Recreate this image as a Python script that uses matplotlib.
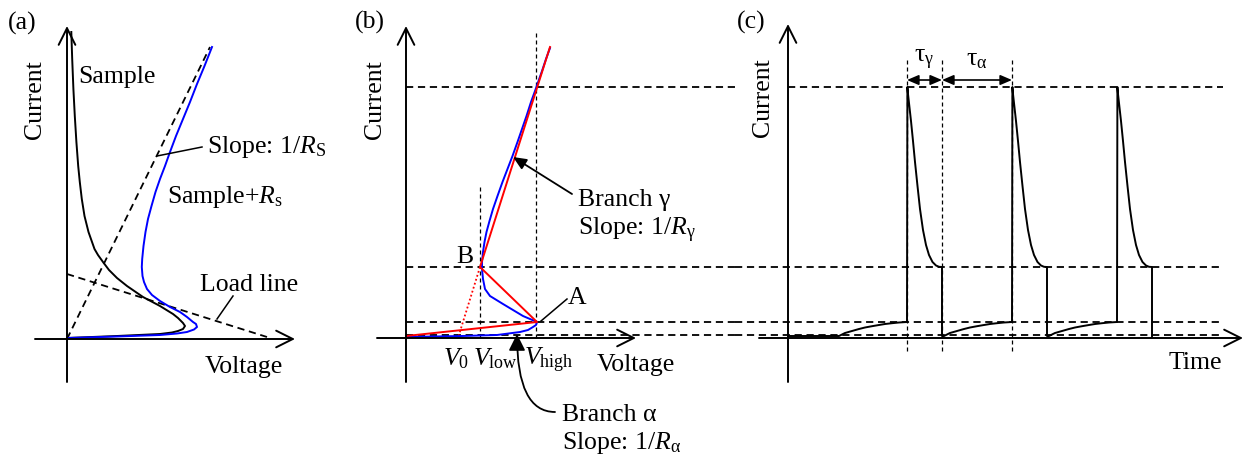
import matplotlib.pyplot as plt

plt.rcParams['font.family'] = 'Liberation Serif'
plt.rcParams['mathtext.fontset'] = 'custom'
plt.rcParams['mathtext.rm'] = 'Liberation Serif'
plt.rcParams['mathtext.it'] = 'Liberation Serif:italic'
plt.rcParams['mathtext.bf'] = 'Liberation Serif:bold'
plt.rcParams['font.size'] = 18.5

# (a) sample curve and sample + series resistor (voltage, current), arbitrary units
a_sample_v = [0, 0.50, 0.93, 1.05, 1.11, 1.16, 1.18, 1.16, 1.11, 1.06, 0.93, 0.76, 0.60, 0.50,
              0.42, 0.36, 0.31, 0.275, 0.215, 0.175, 0.148, 0.128, 0.112, 0.094, 0.078, 0.064,
              0.052, 0.043]
a_sample_i = [0.01, 0.03, 0.05, 0.065, 0.08, 0.10, 0.13, 0.16, 0.21, 0.25, 0.33, 0.42, 0.53, 0.61,
              0.69, 0.77, 0.84, 0.90, 1.07, 1.23, 1.40, 1.57, 1.73, 1.97, 2.23, 2.50,
              2.80, 3.07]
a_series_v = [0, 0.50, 0.93, 1.10, 1.20, 1.27, 1.30, 1.29, 1.26, 1.20, 1.13, 1.03, 0.93, 0.85,
              0.80, 0.77, 0.755, 0.748, 0.752, 0.765, 0.785, 0.81, 0.845, 0.885, 0.93, 0.98,
              1.03, 1.09, 1.16, 1.23, 1.30, 1.375, 1.45]
a_series_i = [0.01, 0.025, 0.04, 0.055, 0.07, 0.095, 0.12, 0.15, 0.17, 0.22, 0.27, 0.32, 0.38, 0.44,
              0.50, 0.57, 0.63, 0.72, 0.80, 0.93, 1.07, 1.20, 1.33, 1.47, 1.60, 1.73,
              1.87, 2.03, 2.20, 2.37, 2.55, 2.73, 2.92]
a_rs_v = [0, 1.43]
a_rs_i = [0, 2.92]
a_load_v = [0, 2.00]
a_load_i = [0.65, 0.02]

# (b) measured curve (blue) and piecewise-linear model (red)
b_curve_v = [0, 0.56, 0.91, 1.14, 1.22, 1.27, 1.30, 1.31, 1.17, 0.97, 0.84, 0.79, 0.77, 0.76,
             0.76, 0.77, 0.785, 0.805, 0.835, 0.87, 0.915, 0.965, 1.015, 1.065, 1.115, 1.16,
             1.205, 1.25, 1.29, 1.325, 1.36, 1.40, 1.44]
b_curve_i = [0.01, 0.02, 0.03, 0.06, 0.08, 0.11, 0.13, 0.16, 0.22, 0.34, 0.42, 0.49, 0.59, 0.69,
             0.76, 0.86, 0.96, 1.06, 1.17, 1.29, 1.42, 1.56, 1.69, 1.82, 1.96, 2.09,
             2.22, 2.36, 2.47, 2.57, 2.67, 2.79, 2.90]
b_model_v = [0, 1.31, 0.74, 1.44]
b_model_i = [0.02, 0.16, 0.71, 2.91]
b_extrap_v = [0.74, 0.52]
b_extrap_i = [0.71, 0.0]
v0, v_low, v_high = 0.52, 0.74, 1.30

# current levels shared by (b) and (c): peak, B, A, low
i_peak, i_b, i_a, i_low = 2.51, 0.71, 0.16, 0.03

# (c) one oscillation period, offsets from the switching instant
rise_dt = [-0.68, -0.62, -0.55, -0.48, -0.42, -0.35, -0.28, -0.22, -0.15, -0.08, 0.0]
rise_i = [0.02, 0.05, 0.07, 0.09, 0.105, 0.118, 0.13, 0.14, 0.148, 0.155, 0.16]
decay_dt = [0.0, 0.004, 0.01, 0.02, 0.04, 0.06, 0.08, 0.105, 0.13, 0.16, 0.19, 0.22, 0.255,
            0.29, 0.32, 0.35]
decay_i = [0.16, 2.51, 2.44, 2.35, 2.17, 1.97, 1.76, 1.52, 1.29, 1.08, 0.93, 0.83, 0.76,
           0.725, 0.712, 0.71]
jump_times = [1.19, 2.24, 3.29]
tau_gamma = 0.35

fig = plt.figure(figsize=(12.45, 4.6), dpi=100)

LW = 1.4
dash = dict(color='black', lw=1.3, linestyle=(0, (4, 2.6)))
fine = dict(color='black', lw=0.9, linestyle=(0, (3.2, 2.4)))
axis_arrow = dict(arrowstyle='->,head_length=1.2,head_width=0.6', lw=LW, color='black',
                  shrinkA=0, shrinkB=0, mutation_scale=10)


def draw_axes(ax, xl, xr, yb, yt):
    ax.annotate('', xy=(xr, 0), xytext=(xl, 0), arrowprops=axis_arrow, annotation_clip=False)
    ax.annotate('', xy=(0, yt), xytext=(0, yb), arrowprops=axis_arrow, annotation_clip=False)


# ---------------- (a)
ax = fig.add_axes([0, 0, 340 / 1245, 1])
ax.set_xlim(-0.67, 2.73)
ax.set_ylim(-1.2, 3.4)
ax.axis('off')
draw_axes(ax, -0.32, 2.28, -0.43, 3.13)
ax.plot(a_rs_v, a_rs_i, **dash)
ax.plot(a_load_v, a_load_i, **dash)
ax.plot(a_sample_v, a_sample_i, color='black', lw=LW)
ax.plot(a_series_v, a_series_i, color='blue', lw=LW)
ax.plot([0.90, 1.35], [1.83, 1.92], color='black', lw=1.1)
ax.plot([1.50, 1.66], [0.20, 0.43], color='black', lw=1.1)
ax.text(-0.59, 3.17, '(a)', ha='left', va='center')
ax.text(-0.32, 2.40, 'Current', rotation=90, ha='center', va='center')
ax.text(0.11, 2.63, 'Sample', ha='left', va='center')
ax.text(1.40, 1.93, 'Slope: 1/$R_{\\mathrm{S}}$', ha='left', va='center')
ax.text(1.00, 1.43, 'Sample+$R_{\\mathrm{s}}$', ha='left', va='center')
ax.text(1.33, 0.55, 'Load line', ha='left', va='center')
ax.text(1.38, -0.27, 'Voltage', ha='left', va='center')

# ---------------- (b)
ax = fig.add_axes([355 / 1245, 0, 380 / 1245, 1])
ax.set_xlim(-0.51, 3.29)
ax.set_ylim(-1.21, 3.39)
ax.axis('off')
draw_axes(ax, -0.29, 2.30, -0.44, 3.12)
ax.hlines([i_peak, i_b, i_a, i_low], 0, 3.29, **dash)
ax.vlines(v_low, 0, 1.54, **fine)
ax.vlines(v_high, 0, 3.06, **fine)
ax.plot(b_extrap_v, b_extrap_i, color='red', lw=1.3, linestyle=(0, (1, 1.3)))
ax.plot(b_curve_v, b_curve_i, color='blue', lw=LW)
ax.plot(b_model_v, b_model_i, color='red', lw=LW)
ax.plot([1.35, 1.61], [0.17, 0.39], color='black', lw=1.1)
ax.text(-0.51, 3.17, '(b)', ha='left', va='center')
ax.text(-0.31, 2.39, 'Current', rotation=90, ha='center', va='center')
ax.text(0.59, 0.82, 'B', ha='center', va='center')
ax.text(1.71, 0.41, 'A', ha='center', va='center')
ax.text(1.72, 1.39, 'Branch γ', ha='left', va='center')
ax.text(1.72, 1.09, 'Slope: 1/$R_{\\mathrm{γ}}$', ha='left', va='center')
ax.annotate('', xy=(1.07, 1.81), xytext=(1.66, 1.44),
            arrowprops=dict(arrowstyle='-|>,head_length=0.8,head_width=0.35', lw=1.3,
                            color='black', shrinkA=0, shrinkB=0, mutation_scale=10))
ax.text(1.56, -0.76, 'Branch α', ha='left', va='center')
ax.text(1.56, -1.04, 'Slope: 1/$R_{\\mathrm{α}}$', ha='left', va='center')
ax.annotate('', xy=(1.11, 0.04), xytext=(1.49, -0.74),
            arrowprops=dict(arrowstyle='-|>,head_length=1.0,head_width=0.5', lw=1.3,
                            color='black', shrinkA=0, shrinkB=0, mutation_scale=10,
                            connectionstyle='angle3,angleA=0,angleB=90'))
ax.text(v0 - 0.02, -0.26, '$V_0$', ha='center', va='baseline')
ax.text(v_low + 0.15, -0.26, '$V_{\\mathrm{low}}$', ha='center', va='baseline')
ax.text(v_high + 0.13, -0.26, '$V_{\\mathrm{high}}$', ha='center', va='baseline')
ax.text(1.91, -0.26, 'Voltage', ha='left', va='center')

# ---------------- (c)
ax = fig.add_axes([735 / 1245, 0, 510 / 1245, 1])
ax.set_xlim(-0.53, 4.57)
ax.set_ylim(-1.21, 3.39)
ax.axis('off')
draw_axes(ax, -0.29, 4.55, -0.44, 3.14)
ax.hlines(i_peak, 0, 4.35, **dash)
ax.hlines([i_b, i_a, i_low], -0.53, 4.35, **dash)
t_marks = [jump_times[0], jump_times[0] + tau_gamma, jump_times[1]]
ax.vlines(t_marks, -0.13, 2.79, **fine)

wave_t = [0.0]
wave_i = [0.02]
for tj in jump_times:
    wave_t += [tj + d for d in rise_dt] + [tj + d for d in decay_dt] + [tj + tau_gamma]
    wave_i += rise_i + decay_i + [0.02]
ax.plot(wave_t, wave_i, color='black', lw=LW)

dim = dict(arrowstyle='<|-|>,head_length=0.7,head_width=0.3', lw=1.2, color='black',
           shrinkA=0, shrinkB=0, mutation_scale=10)
ax.annotate('', xy=(t_marks[1], 2.58), xytext=(t_marks[0], 2.58), arrowprops=dim)
ax.annotate('', xy=(t_marks[2], 2.58), xytext=(t_marks[1], 2.58), arrowprops=dim)
ax.text((t_marks[0] + t_marks[1]) / 2, 2.79, 'τ$_{\\mathrm{γ}}$', ha='center', va='center')
ax.text((t_marks[1] + t_marks[2]) / 2, 2.79, 'τ$_{\\mathrm{α}}$', ha='center', va='center')
ax.text(-0.51, 3.17, '(c)', ha='left', va='center')
ax.text(-0.25, 2.41, 'Current', rotation=90, ha='center', va='center')
ax.text(4.34, -0.24, 'Time', ha='right', va='center')

fig.savefig('out.png', dpi=100)
